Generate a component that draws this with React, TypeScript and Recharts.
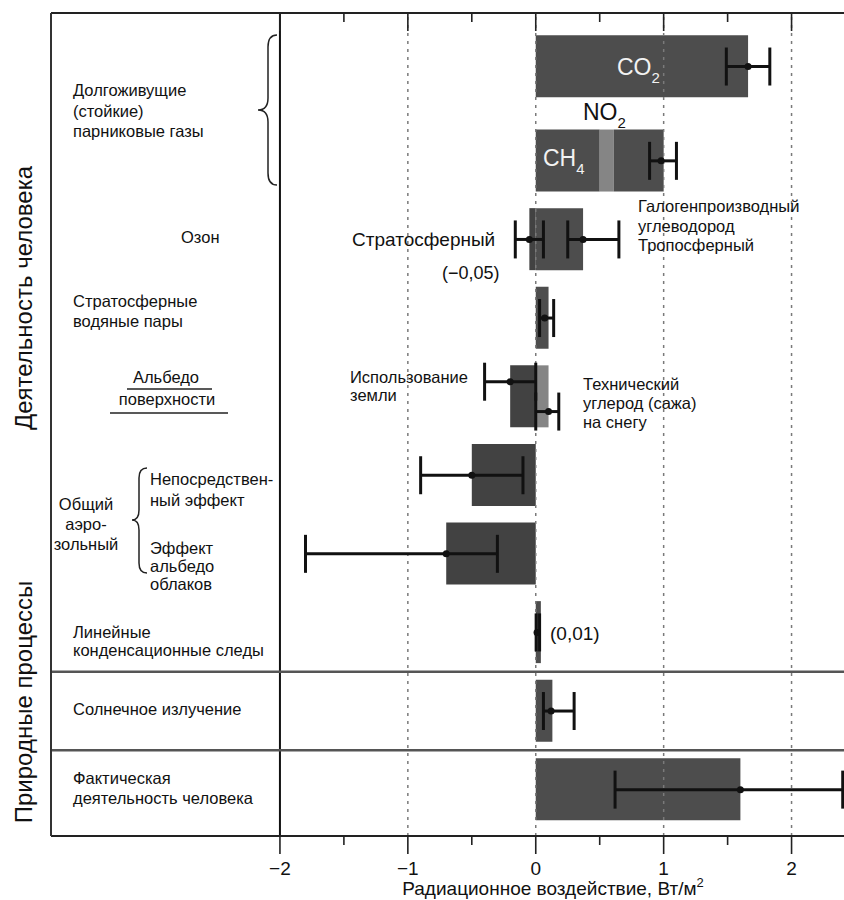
import React from 'react';
import { ComposedChart, Bar, XAxis, YAxis, ReferenceLine, Scatter, ErrorBar } from 'recharts';

// ---- data ----
const categories = [
  'CO2',
  'CH4 / NO2 / галогенпроизводный углеводород',
  'Озон',
  'Стратосферные водяные пары',
  'Альбедо поверхности',
  'Непосредственный эффект',
  'Эффект альбедо облаков',
  'Линейные конденсационные следы',
  'Солнечное излучение',
  'Фактическая деятельность человека',
];
const darkValues = [1.66, 0.5, 0.37, 0.1, 0, 0, 0, 0.04, 0.13, 1.6];
const lightValues = [0, 0.11, 0, 0, 0.1, 0, 0, 0, 0, 0];
const halocarbonValues = [0, 0.39, 0, 0, 0, 0, 0, 0, 0, 0];
const negativeValues = [0, 0, -0.05, 0, -0.2, -0.5, -0.7, 0, 0, 0];

const errorRows = [0, 1, 2, 2, 3, 4, 4, 5, 6, 7, 8, 9];
const errorSub = [0, 0, 0, 0, 0, -1, 1, 0, 0, 0, 0, 0];
const errorCenter = [1.66, 0.98, -0.05, 0.37, 0.07, -0.2, 0.1, -0.5, -0.7, 0.01, 0.12, 1.6];
const errorLow = [1.49, 0.89, -0.16, 0.25, 0.03, -0.4, 0.0, -0.9, -1.8, 0.003, 0.06, 0.62];
const errorHigh = [1.83, 1.1, 0.06, 0.65, 0.14, 0.0, 0.18, -0.1, -0.3, 0.03, 0.3, 2.4];

const xTicks = [-2, -1.5, -1, -0.5, 0, 0.5, 1, 1.5, 2];
const gridValues = [-1, 0, 1, 2];

// ---- layout helpers ----
const GHG_GAP = 0.2; // extra space after the CO2 row
const SUB_OFFSET = 0.19;
const rowPos = (i: number) => (i === 0 ? 0 : i + GHG_GAP);
const Y_DOMAIN: [number, number] = [-0.681, 9.79];
const X_DOMAIN: [number, number] = [-3.79, 2.41];

const barData = categories.map((name, i) => ({
  name,
  y: rowPos(i),
  dark: darkValues[i],
  light: lightValues[i],
  halo: halocarbonValues[i],
  neg: negativeValues[i],
}));

const errData = errorCenter.map((c, i) => ({
  x: c,
  ey: rowPos(errorRows[i]) + errorSub[i] * SUB_OFFSET,
  err: [c - errorLow[i], errorHigh[i] - c],
}));

const FONT = '"Liberation Sans", Arial, Helvetica, sans-serif';
const fmt = (v: number) => (v < 0 ? '\u2212' + Math.abs(v) : String(v));

const BottomTick = (props: any) => {
  const { x, y, payload } = props;
  const major = Number.isInteger(payload.value);
  return (
    <g>
      <line x1={x} x2={x} y1={y} y2={y + (major ? 18 : 9)} stroke="#222" strokeWidth={1.6} />
      {major && (
        <text x={x} y={y + 39} textAnchor="middle" fontSize={19} fontFamily={FONT} fill="#111">
          {fmt(payload.value)}
        </text>
      )}
    </g>
  );
};

const TopTick = (props: any) => {
  const { x, y, payload } = props;
  const major = Number.isInteger(payload.value);
  return <line x1={x} x2={x} y1={y} y2={y + (major ? 18 : 9)} stroke="#222" strokeWidth={1.6} />;
};

const Dot = (p: any) => <circle cx={p.cx} cy={p.cy} r={3.5} fill="#111" />;

const T = ({ x, y, s = 16.5, a = 'start', c = '#111', children }: any) => (
  <text x={x} y={y} fontSize={s} textAnchor={a} fill={c} fontFamily={FONT}>
    {children}
  </text>
);

const Formula = ({ x, y, base, sub, color }: any) => (
  <text x={x} y={y} fontSize={23} fill={color} fontFamily={FONT}>
    {base}
    <tspan fontSize={15} dy={8}>
      {sub}
    </tspan>
  </text>
);

export default function App() {
  const sep1 = (rowPos(7) + rowPos(8)) / 2;
  const sep2 = (rowPos(8) + rowPos(9)) / 2;
  return (
    <div style={{ position: 'absolute', left: 0, top: 0, width: 844, height: 900, background: '#fff' }}>
      <ComposedChart
        width={844}
        height={900}
        layout="vertical"
        data={barData}
        stackOffset="sign"
        margin={{ top: 0, right: 0, bottom: 0, left: 0 }}
      >
        <XAxis
          type="number"
          dataKey="x"
          xAxisId={0}
          orientation="bottom"
          domain={X_DOMAIN}
          allowDataOverflow
          ticks={xTicks}
          interval={0}
          height={64}
          tickSize={0}
          tickMargin={0}
          tickLine={false}
          axisLine={{ stroke: '#222', strokeWidth: 2 }}
          tick={<BottomTick />}
        />
        <XAxis
          type="number"
          xAxisId="top"
          orientation="top"
          domain={X_DOMAIN}
          allowDataOverflow
          ticks={xTicks}
          interval={0}
          height={13}
          tickSize={0}
          tickMargin={0}
          tickLine={false}
          axisLine={{ stroke: '#222', strokeWidth: 2 }}
          tick={<TopTick />}
        />
        <YAxis
          type="number"
          dataKey="y"
          yAxisId={0}
          domain={Y_DOMAIN}
          allowDataOverflow
          ticks={barData.map((d) => d.y)}
          width={51}
          tick={false}
          tickLine={false}
          axisLine={{ stroke: '#333', strokeWidth: 2 }}
        />
        <YAxis type="number" dataKey="ey" yAxisId="err" domain={Y_DOMAIN} allowDataOverflow hide />
        {gridValues.map((v) => (
          <ReferenceLine key={v} x={v} stroke="#7a7a7a" strokeWidth={1.5} strokeDasharray="3 5" />
        ))}
        <ReferenceLine x={-2} stroke="#111" strokeWidth={2} />
        <ReferenceLine y={sep1} stroke="#555" strokeWidth={2.5} />
        <ReferenceLine y={sep2} stroke="#555" strokeWidth={2.5} />
        <Bar dataKey="neg" stackId="s" fill="#424242" barSize={62} isAnimationActive={false} />
        <Bar dataKey="dark" stackId="s" fill="#4d4d4d" barSize={62} isAnimationActive={false} />
        <Bar dataKey="light" stackId="s" fill="#858585" barSize={62} isAnimationActive={false} />
        <Bar dataKey="halo" stackId="s" fill="#4d4d4d" barSize={62} isAnimationActive={false} />
        <Scatter data={errData} dataKey="x" yAxisId="err" shape={<Dot />} isAnimationActive={false}>
          <ErrorBar dataKey="err" direction="x" width={19} strokeWidth={3} stroke="#111" />
        </Scatter>
      </ComposedChart>

      <svg
        width={844}
        height={900}
        style={{ position: 'absolute', left: 0, top: 0, pointerEvents: 'none' }}
      >
        {/* side group labels */}
        <text transform="translate(32,298) rotate(-90)" textAnchor="middle" fontSize={24} fontFamily={FONT} fill="#111">
          Деятельность человека
        </text>
        <text transform="translate(32,702) rotate(-90)" textAnchor="middle" fontSize={24} fontFamily={FONT} fill="#111">
          Природные процессы
        </text>

        {/* left category labels */}
        <T x={73} y={96}>Долгоживущие</T>
        <T x={73} y={117}>(стойкие)</T>
        <T x={73} y={137}>парниковые газы</T>
        <path
          d="M 277 35 Q 268 35 268 47 L 268 98 Q 268 110 258 110 Q 268 110 268 122 L 268 173 Q 268 185 277 185"
          fill="none"
          stroke="#222"
          strokeWidth={1.5}
        />
        <T x={181} y={243}>Озон</T>
        <T x={73} y={307}>Стратосферные</T>
        <T x={73} y={327}>водяные пары</T>
        <T x={166} y={383} a="middle">Альбедо</T>
        <line x1={127} x2={212} y1={389} y2={389} stroke="#222" strokeWidth={1.5} />
        <T x={167} y={405} a="middle">поверхности</T>
        <line x1={110} x2={228} y1={413} y2={413} stroke="#222" strokeWidth={1.5} />

        <T x={86} y={510} a="middle">Общий</T>
        <T x={86} y={530} a="middle">аэро-</T>
        <T x={86} y={550} a="middle">зольный</T>
        <path
          d="M 147 468 Q 139 468 139 478 L 139 510 Q 139 520 132 520 Q 139 520 139 530 L 139 563 Q 139 573 147 573"
          fill="none"
          stroke="#222"
          strokeWidth={1.5}
        />
        <T x={150} y={485}>Непосредствен-</T>
        <T x={150} y={506}>ный эффект</T>
        <T x={150} y={554}>Эффект</T>
        <T x={150} y={572}>альбедо</T>
        <T x={150} y={590}>облаков</T>

        <T x={73} y={638}>Линейные</T>
        <T x={73} y={656}>конденсационные следы</T>
        <T x={73} y={715}>Солнечное излучение</T>
        <T x={73} y={784}>Фактическая</T>
        <T x={73} y={804}>деятельность человека</T>

        {/* annotations in the plot */}
        <Formula x={617} y={75} base="CO" sub="2" color="#f2f2f2" />
        <Formula x={583} y={120} base="NO" sub="2" color="#111" />
        <Formula x={543} y={166} base="CH" sub="4" color="#f2f2f2" />

        <T x={638} y={212}>Галогенпроизводный</T>
        <T x={638} y={232}>углеводород</T>
        <T x={638} y={251}>Тропосферный</T>
        <T x={352} y={246} s={19}>Стратосферный</T>
        <T x={442} y={279} s={18}>(−0,05)</T>

        <T x={350} y={383}>Использование</T>
        <T x={350} y={401}>земли</T>
        <T x={583} y={390}>Технический</T>
        <T x={583} y={409}>углерод (сажа)</T>
        <T x={583} y={428}>на снегу</T>

        <T x={550} y={640} s={19}>(0,01)</T>

        <text x={553} y={895} textAnchor="middle" fontSize={19} fontFamily={FONT} fill="#111">
          Радиационное воздействие, Вт/м
          <tspan fontSize={13} dy={-8}>
            2
          </tspan>
        </text>
      </svg>
    </div>
  );
}
